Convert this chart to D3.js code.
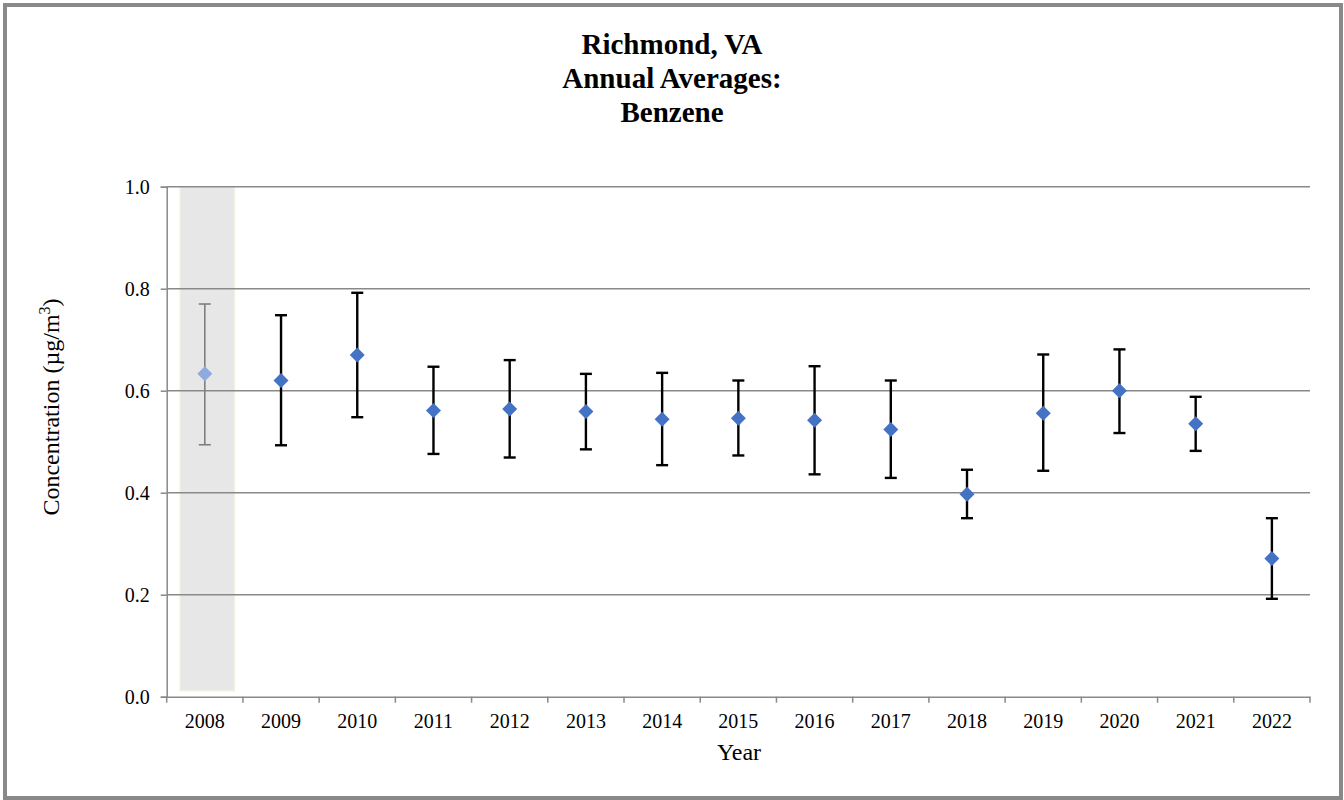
<!DOCTYPE html>
<html>
<head>
<meta charset="utf-8">
<script src="https://cdn.jsdelivr.net/npm/d3@7"></script>
<style>
  body { margin: 0; background: #fff; }
  text { font-family: "Liberation Serif", "Times New Roman", serif; fill: #000; }
</style>
</head>
<body>
<div id="chart"></div>
<script>
// annual averages with error bar limits (µg/m3)
var years = ["2008","2009","2010","2011","2012","2013","2014","2015","2016","2017","2018","2019","2020","2021","2022"];
var means = [0.633, 0.620, 0.670, 0.561, 0.564, 0.559, 0.544, 0.546, 0.542, 0.524, 0.397, 0.556, 0.600, 0.535, 0.271];
var upper = [0.770, 0.748, 0.792, 0.647, 0.660, 0.633, 0.635, 0.620, 0.648, 0.620, 0.445, 0.671, 0.681, 0.588, 0.350];
var lower = [0.494, 0.493, 0.548, 0.476, 0.469, 0.485, 0.454, 0.473, 0.436, 0.429, 0.350, 0.443, 0.517, 0.482, 0.192];
var yTicks = [0, 0.2, 0.4, 0.6, 0.8, 1.0];
var shadedYears = ["2008"];

var W = 1344, H = 800;
var margin = { left: 166.7, right: 34, top: 186.7, bottom: 103.3 };
var width = W - margin.left - margin.right;
var height = H - margin.top - margin.bottom;

var data = years.map(function(y, i) {
    return { year: y, mean: means[i], hi: upper[i], lo: lower[i], shaded: shadedYears.indexOf(y) >= 0 };
});

var svg = d3.select("#chart").append("svg")
    .attr("width", W)
    .attr("height", H);

// outer frame
svg.append("rect")
    .attr("x", 5).attr("y", 5)
    .attr("width", 1336).attr("height", 793)
    .attr("fill", "none")
    .attr("stroke", "#898989")
    .attr("stroke-width", 4);

// title
var title = ["Richmond, VA", "Annual Averages:", "Benzene"];
svg.append("g").selectAll("text")
    .data(title)
    .enter().append("text")
    .attr("x", 672)
    .attr("y", function(d, i) { return 54 + i * 34; })
    .attr("text-anchor", "middle")
    .style("font-size", "29px")
    .style("font-weight", "bold")
    .text(function(d) { return d; });

var g = svg.append("g")
    .attr("transform", "translate(" + margin.left + "," + margin.top + ")");

var x = d3.scaleBand().domain(years).range([0, width]);
var y = d3.scaleLinear().domain([0, 1]).range([height, 0]);

// shaded band for the flagged year
g.selectAll(".shade")
    .data(data.filter(function(d) { return d.shaded; }))
    .enter().append("rect")
    .attr("class", "shade")
    .attr("x", function(d) { return x(d.year) + 13.5; })
    .attr("width", x.bandwidth() - 22)
    .attr("y", y(1))
    .attr("height", y(0) - y(1) - 6)
    .attr("fill", "#e7e7e7")
    .attr("stroke", "#f1efe0")
    .attr("stroke-width", 1.5);

// gridlines + y axis
var yAxis = d3.axisLeft(y)
    .tickValues(yTicks)
    .tickFormat(d3.format(".1f"))
    .tickSize(6)
    .tickPadding(11);

var yg = g.append("g").call(yAxis);
yg.select(".domain").attr("stroke", "#898989").attr("stroke-width", 1.5);
yg.selectAll(".tick line").attr("stroke", "#898989").attr("stroke-width", 1.5);
yg.selectAll(".tick text").style("font-size", "20px");

g.append("g").selectAll("line")
    .data(yTicks.filter(function(d) { return d > 0; }))
    .enter().append("line")
    .attr("x1", 0).attr("x2", width)
    .attr("y1", function(d) { return y(d); })
    .attr("y2", function(d) { return y(d); })
    .attr("stroke", "#898989")
    .attr("stroke-width", 1.5);

// x axis
var xAxis = d3.axisBottom(x).tickSize(0).tickPadding(17);
var xg = g.append("g")
    .attr("transform", "translate(0," + height + ")")
    .call(xAxis);
xg.select(".domain").attr("stroke", "#898989").attr("stroke-width", 1.5);
xg.selectAll(".tick text").style("font-size", "20px");

// category boundary ticks
xg.selectAll(".bound")
    .data(years.concat(["end"]))
    .enter().append("line")
    .attr("x1", function(d, i) { return i < years.length ? x(d) : width; })
    .attr("x2", function(d, i) { return i < years.length ? x(d) : width; })
    .attr("y1", 0).attr("y2", 6)
    .attr("stroke", "#898989")
    .attr("stroke-width", 1.5);

// error bars
var cx = function(d) { return x(d.year) + x.bandwidth() / 2; };
var bars = g.append("g").selectAll("g")
    .data(data)
    .enter().append("g")
    .attr("stroke", function(d) { return d.shaded ? "#7f7f7f" : "#000"; })
    .attr("stroke-width", function(d) { return d.shaded ? 1.6 : 2.4; });

bars.append("line")
    .attr("x1", cx).attr("x2", cx)
    .attr("y1", function(d) { return y(d.hi); })
    .attr("y2", function(d) { return y(d.lo); });
bars.append("line")
    .attr("x1", function(d) { return cx(d) - 6; })
    .attr("x2", function(d) { return cx(d) + 6; })
    .attr("y1", function(d) { return y(d.hi); })
    .attr("y2", function(d) { return y(d.hi); });
bars.append("line")
    .attr("x1", function(d) { return cx(d) - 6; })
    .attr("x2", function(d) { return cx(d) + 6; })
    .attr("y1", function(d) { return y(d.lo); })
    .attr("y2", function(d) { return y(d.lo); });

// diamonds
var r = 7.5;
g.append("g").selectAll("path")
    .data(data)
    .enter().append("path")
    .attr("d", function(d) {
        var px = cx(d), py = y(d.mean);
        return "M" + px + "," + (py - r) + "L" + (px + r) + "," + py +
               "L" + px + "," + (py + r) + "L" + (px - r) + "," + py + "Z";
    })
    .attr("fill", function(d) { return d.shaded ? "#8faadc" : "#4472c4"; });

// axis titles
svg.append("text")
    .attr("x", 739)
    .attr("y", 760)
    .attr("text-anchor", "middle")
    .style("font-size", "24px")
    .text("Year");

var yl = svg.append("text")
    .attr("transform", "translate(59,407) rotate(-90)")
    .attr("text-anchor", "middle")
    .style("font-size", "24px");
yl.append("tspan").text("Concentration (µg/m");
yl.append("tspan").attr("dy", -9).style("font-size", "16px").text("3");
yl.append("tspan").attr("dy", 9).text(")");
</script>
</body>
</html>
